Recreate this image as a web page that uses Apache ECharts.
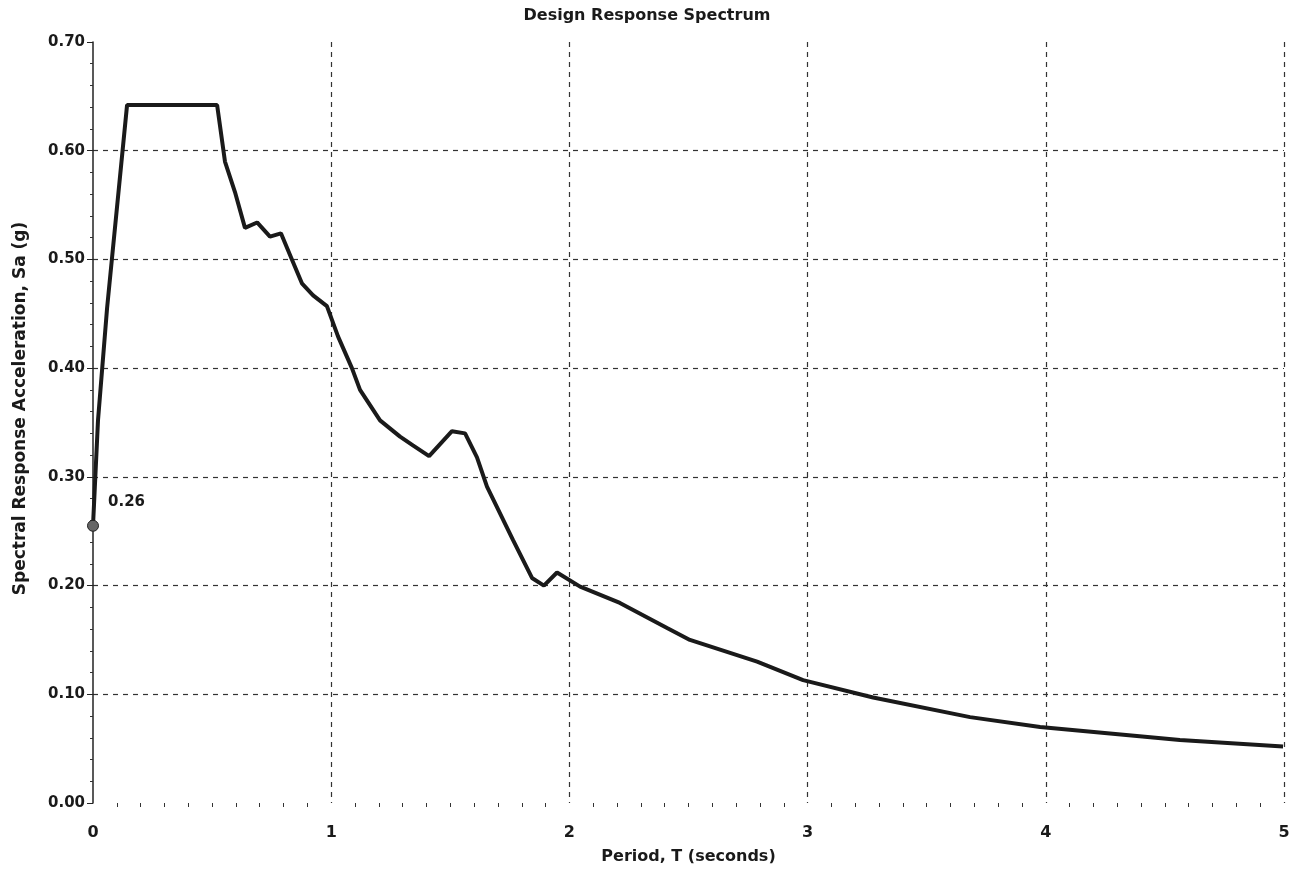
<!DOCTYPE html>
<html>
<head>
<meta charset="utf-8">
<title>Design Response Spectrum</title>
<script src="https://cdn.jsdelivr.net/npm/echarts@6/dist/echarts.min.js"></script>
<style>
  html, body { margin: 0; padding: 0; background: #fff; }
  #chart { width: 1294px; height: 875px; }
</style>
</head>
<body>
<div id="chart"></div>
<script>
// period T (s) and spectral acceleration Sa (g)
var period = [0, 0.021, 0.059, 0.143, 0.521, 0.554, 0.596, 0.638, 0.689, 0.743,
  0.789, 0.835, 0.877, 0.924, 0.982, 1.029, 1.087, 1.121, 1.205, 1.289,
  1.343, 1.411, 1.507, 1.562, 1.612, 1.654, 1.763, 1.843, 1.893, 1.948,
  2.045, 2.212, 2.410, 2.506, 2.788, 2.981, 3.275, 3.682, 3.976, 4.563, 4.996];
var sa = [0.255, 0.352, 0.455, 0.642, 0.642, 0.590, 0.562, 0.529, 0.534, 0.521,
  0.524, 0.500, 0.478, 0.467, 0.457, 0.429, 0.400, 0.380, 0.352, 0.337,
  0.329, 0.319, 0.342, 0.340, 0.318, 0.291, 0.242, 0.207, 0.200, 0.212,
  0.199, 0.184, 0.161, 0.150, 0.130, 0.113, 0.097, 0.079, 0.070, 0.058, 0.052];

var xTicks = [0, 1, 2, 3, 4, 5];
var yTicks = [0, 0.1, 0.2, 0.3, 0.4, 0.5, 0.6, 0.7];

var fontFam = 'DejaVu Sans';

var lineData = [];
for (var i = 0; i < period.length; i++) {
  lineData.push([period[i], sa[i]]);
}

var myChart = echarts.init(document.getElementById('chart'));

var option = {
  backgroundColor: '#fff',
  animation: false,
  title: {
    text: 'Design Response Spectrum',
    left: 'center',
    top: 3,
    textStyle: { fontFamily: fontFam, fontWeight: 'bold', fontSize: 16, color: '#1a1a1a' }
  },
  grid: { left: 93, right: 10, top: 42, bottom: 72 },
  xAxis: {
    type: 'value',
    min: xTicks[0],
    max: xTicks[xTicks.length - 1],
    interval: 1,
    name: 'Period, T (seconds)',
    nameLocation: 'middle',
    nameGap: 46,
    nameTextStyle: { fontFamily: fontFam, fontWeight: 'bold', fontSize: 16, color: '#1a1a1a' },
    axisLine: { show: false },
    axisTick: { show: false },
    minorTick: { show: true, splitNumber: 10, length: 4, lineStyle: { color: '#333', width: 1 } },
    axisLabel: { margin: 22, fontFamily: fontFam, fontWeight: 'bold', fontSize: 16, color: '#1a1a1a' },
    splitLine: {
      show: true,
      showMinLine: false,
      lineStyle: { color: '#333', width: 1.2, type: [5, 5] }
    }
  },
  yAxis: {
    type: 'value',
    min: yTicks[0],
    max: yTicks[yTicks.length - 1],
    interval: 0.1,
    name: 'Spectral Response Acceleration, Sa (g)',
    nameLocation: 'middle',
    nameGap: 64,
    nameTextStyle: {
      fontFamily: fontFam, fontWeight: 'bold', fontSize: 17, color: '#1a1a1a',
      padding: [0, 0, 0, 28]
    },
    axisLine: { show: true, lineStyle: { color: '#222', width: 1.5 } },
    axisTick: { show: true, length: 6, lineStyle: { color: '#222' } },
    minorTick: { show: true, splitNumber: 5, length: 3, lineStyle: { color: '#333' } },
    axisLabel: {
      margin: 8, fontFamily: fontFam, fontWeight: 'bold', fontSize: 15, color: '#1a1a1a',
      formatter: function (v) { return v.toFixed(2); }
    },
    splitLine: {
      show: true,
      showMinLine: false,
      showMaxLine: false,
      lineStyle: { color: '#333', width: 1.2, type: [5, 5] }
    }
  },
  series: [
    {
      name: 'Sa',
      type: 'line',
      data: lineData,
      showSymbol: false,
      lineStyle: { color: '#1a1a1a', width: 4 },
      z: 3
    },
    {
      name: 'Sa0',
      type: 'scatter',
      data: [lineData[0]],
      symbol: 'circle',
      symbolSize: 11,
      itemStyle: { color: '#666', borderColor: '#222', borderWidth: 1, opacity: 1 },
      label: {
        show: true,
        position: 'right',
        offset: [4, -24],
        fontFamily: fontFam,
        fontWeight: 'bold',
        fontSize: 15,
        color: '#1a1a1a',
        formatter: function (p) { return (Math.round(p.value[1] * 100) / 100).toFixed(2); }
      },
      z: 4
    }
  ]
};

myChart.setOption(option);
</script>
</body>
</html>
